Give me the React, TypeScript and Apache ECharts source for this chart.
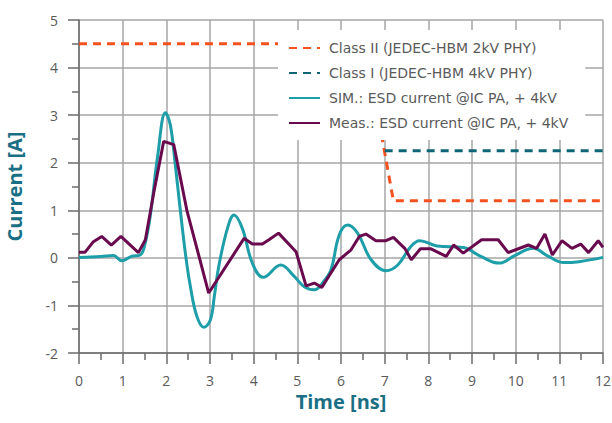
import React, { useEffect, useRef } from "react";
import * as echarts from "echarts";

// Time axis in ns, current in A
const simTime = [0, 0.5, 0.79, 0.98, 1.2, 1.4, 1.5, 1.63, 1.8, 1.98, 2.09, 2.2, 2.32, 2.45, 2.55, 2.7, 2.86, 3.01, 3.1, 3.2, 3.4, 3.55, 3.74, 3.97, 4.22, 4.62, 4.93, 5.15, 5.39, 5.6, 5.77, 5.96, 6.15, 6.38, 6.69, 7.03, 7.3, 7.6, 7.8, 8.2, 8.8, 9.2, 9.62, 10.0, 10.4, 10.75, 11.1, 11.45, 12];
const simCurrent = [0.01, 0.03, 0.05, -0.06, 0.03, 0.06, 0.25, 0.87, 2.13, 3.05, 2.8, 2.0, 1.0, 0.0, -0.6, -1.23, -1.46, -1.3, -0.8, -0.18, 0.62, 0.9, 0.62, -0.11, -0.41, -0.15, -0.39, -0.6, -0.67, -0.5, -0.25, 0.48, 0.69, 0.52, -0.04, -0.27, -0.15, 0.24, 0.36, 0.25, 0.22, 0.03, -0.11, 0.06, 0.2, 0.03, -0.1, -0.08, 0.01];

const measTime = [0, 0.14, 0.33, 0.52, 0.74, 0.96, 1.36, 1.52, 1.71, 1.94, 2.17, 2.47, 2.97, 3.78, 3.97, 4.2, 4.35, 4.57, 4.97, 5.2, 5.39, 5.56, 5.96, 6.23, 6.42, 6.57, 6.8, 7.03, 7.2, 7.46, 7.61, 7.82, 8.06, 8.41, 8.58, 8.8, 9.22, 9.6, 9.83, 10.29, 10.48, 10.67, 10.84, 11.06, 11.29, 11.49, 11.67, 11.89, 12];
const measCurrent = [0.12, 0.12, 0.34, 0.45, 0.27, 0.45, 0.11, 0.38, 1.36, 2.45, 2.38, 1.0, -0.74, 0.41, 0.29, 0.29, 0.38, 0.52, 0.13, -0.59, -0.53, -0.62, -0.04, 0.17, 0.45, 0.5, 0.36, 0.36, 0.43, 0.2, -0.04, 0.19, 0.19, 0.03, 0.27, 0.1, 0.38, 0.38, 0.11, 0.27, 0.2, 0.5, 0.06, 0.36, 0.2, 0.29, 0.11, 0.36, 0.22];

// Limit lines
const class2Time = [0, 6.55, 7.2, 12];
const class2Current = [4.5, 4.5, 1.2, 1.2];
const class1Time = [7, 12];
const class1Current = [2.25, 2.25];

const seriesNames = [
  "Class II (JEDEC-HBM 2kV PHY)",
  "Class I (JEDEC-HBM 4kV PHY)",
  "SIM.: ESD current @IC PA, + 4kV",
  "Meas.: ESD current @IC PA, + 4kV",
];

const xTicks = { min: 0, max: 12, interval: 1 };
const yTicks = { min: -2, max: 5, interval: 1 };

const FONT = "'Open Sans', 'Noto Sans', sans-serif";
const LEGEND_FONT = "'DejaVu Sans', 'Open Sans', sans-serif";
const TITLE_COLOR = "#1b6f85";
const LABEL_COLOR = "#5a5a5a";
const AXIS_COLOR = "#6b6b6b";
const GRID_COLOR = "#a6a6a6";

const zip = (xs: number[], ys: number[]) => xs.map((x, i) => [x, ys[i]]);

function axisCommon() {
  return {
    type: "value" as const,
    nameLocation: "middle" as const,
    nameTextStyle: { color: TITLE_COLOR, fontSize: 20, fontWeight: "bold", fontFamily: FONT },
    axisLine: { show: true, onZero: false, lineStyle: { color: AXIS_COLOR, width: 1.5 } },
    axisTick: { show: true, length: 11, lineStyle: { color: AXIS_COLOR, width: 1.5 } },
    minorTick: { show: true, splitNumber: 2, length: 7, lineStyle: { color: AXIS_COLOR, width: 1.5 } },
    splitLine: { show: true, lineStyle: { color: GRID_COLOR, width: 1.5 } },
    axisLabel: { margin: 20, color: LABEL_COLOR, fontSize: 14, fontFamily: FONT },
  };
}

export default function App() {
  const ref = useRef<HTMLDivElement>(null);

  useEffect(() => {
    document.body.style.margin = "0";
    if (!ref.current) return;
    const chart = echarts.init(ref.current, undefined, { renderer: "svg" });
    const base = axisCommon();
    chart.setOption({
      animation: false,
      backgroundColor: "#ffffff",
      grid: { left: 79, right: 9, top: 20, bottom: 70, containLabel: false, outerBoundsMode: "none" },
      xAxis: { ...base, ...xTicks, name: "Time [ns]", nameGap: 38 },
      yAxis: {
        ...base,
        ...yTicks,
        name: "Current [A]",
        nameGap: 55,
        nameRotate: 90,
        axisLabel: { ...base.axisLabel, margin: 21 },
      },
      legend: {
        orient: "vertical",
        left: 278,
        top: 30,
        backgroundColor: "#ffffff",
        padding: [11, 17, 10, 10],
        itemWidth: 31,
        itemHeight: 14,
        itemGap: 11,
        itemStyle: { opacity: 0 },
        textStyle: { color: LABEL_COLOR, fontSize: 14, fontFamily: LEGEND_FONT, padding: [0, 0, 0, 4] },
        data: seriesNames,
      },
      series: [
        {
          name: seriesNames[0],
          type: "line",
          data: zip(class2Time, class2Current),
          showSymbol: false,
          symbol: "none",
          lineStyle: { color: "#f4511e", width: 3, type: [8, 6] },
          itemStyle: { color: "#f4511e" },
        },
        {
          name: seriesNames[1],
          type: "line",
          data: zip(class1Time, class1Current),
          showSymbol: false,
          symbol: "none",
          lineStyle: { color: "#0f6478", width: 3, type: [8, 6] },
          itemStyle: { color: "#0f6478" },
        },
        {
          name: seriesNames[2],
          type: "line",
          data: zip(simTime, simCurrent),
          showSymbol: false,
          symbol: "none",
          smooth: 0.4,
          lineStyle: { color: "#1e9ea8", width: 3 },
          itemStyle: { color: "#1e9ea8" },
        },
        {
          name: seriesNames[3],
          type: "line",
          data: zip(measTime, measCurrent),
          showSymbol: false,
          symbol: "none",
          lineStyle: { color: "#6a0a4e", width: 3 },
          itemStyle: { color: "#6a0a4e" },
        },
      ],
    });
    return () => chart.dispose();
  }, []);

  return <div ref={ref} style={{ width: 612, height: 423, position: "absolute", left: 0, top: 0 }} />;
}
